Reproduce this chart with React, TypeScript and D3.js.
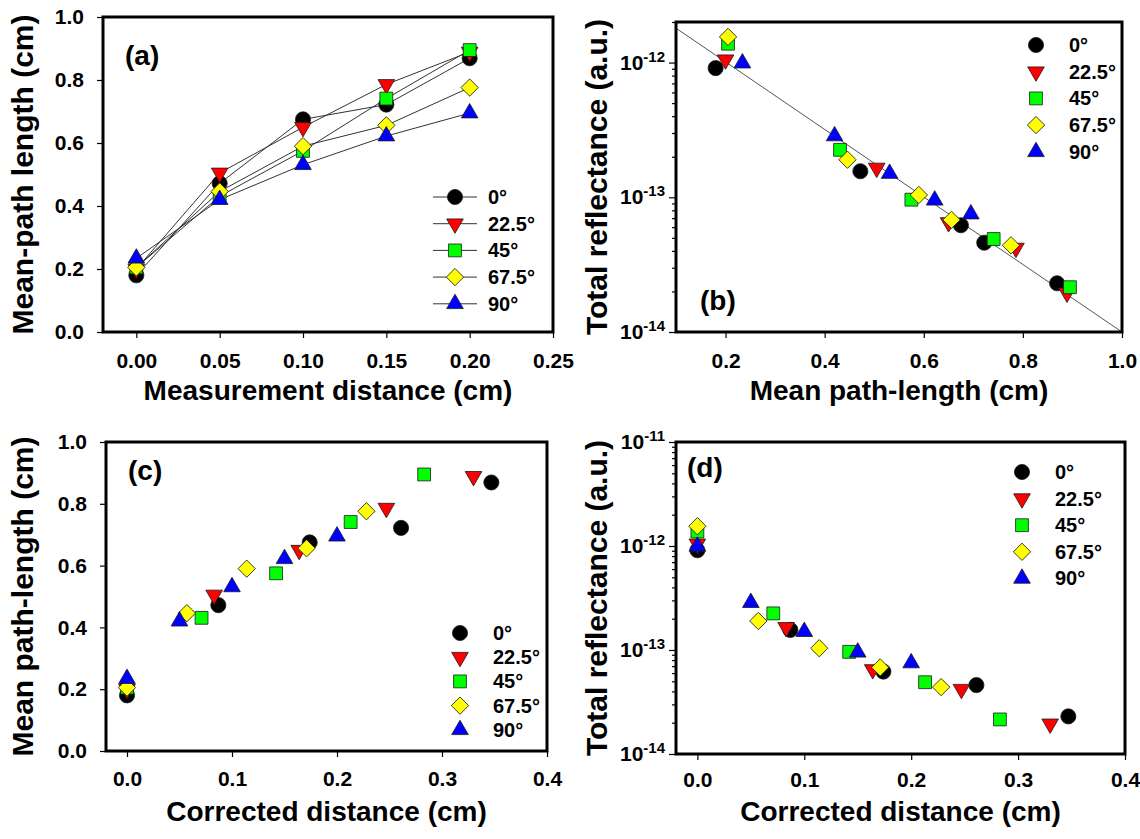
import React, { useEffect, useRef } from 'react';
import * as d3 from 'd3';

const FONT = 'Liberation Sans, Arial, Helvetica, sans-serif';

// series (rotation angle)
const angleLabels = ['0°', '22.5°', '45°', '67.5°', '90°'];
const markerFill = ['#000000', '#ff0000', '#00ff00', '#ffff00', '#0000ff'];
const markerShape = ['circle', 'triangleDown', 'square', 'diamond', 'triangleUp'];

// measurement distance (cm), same for every series
const measurementDistance = [0, 0.05, 0.1, 0.15, 0.2];

// mean path-length (cm) per series
const pathLength = [
  [0.18, 0.472, 0.675, 0.722, 0.869],
  [0.2, 0.505, 0.65, 0.786, 0.889],
  [0.205, 0.431, 0.575, 0.741, 0.895],
  [0.205, 0.446, 0.59, 0.656, 0.776],
  [0.234, 0.42, 0.531, 0.622, 0.695],
];

// total reflectance (a.u.) per series
const reflectance = [
  [9.1e-13, 1.56e-13, 6.2e-14, 4.6e-14, 2.3e-14],
  [1.05e-12, 1.65e-13, 6.5e-14, 4.2e-14, 1.95e-14],
  [1.38e-12, 2.25e-13, 9.6e-14, 4.9e-14, 2.15e-14],
  [1.55e-12, 1.9e-13, 1.04e-13, 6.8e-14, 4.4e-14],
  [9.9e-13, 2.85e-13, 1.5e-13, 9.5e-14, 7.5e-14],
];

// corrected distance (cm) per series
const correctedDistance = [
  [0, 0.087, 0.174, 0.261, 0.347],
  [0, 0.083, 0.164, 0.247, 0.33],
  [0, 0.071, 0.142, 0.213, 0.283],
  [0, 0.057, 0.114, 0.171, 0.228],
  [0, 0.05, 0.1, 0.15, 0.2],
];

// regression line of panel (b)
const fitPathLength = [0.1, 1.0];
const fitReflectance = [1.8e-12, 1e-14];

const ticksA = [0, 0.05, 0.1, 0.15, 0.2, 0.25];
const ticksB = [0.2, 0.4, 0.6, 0.8, 1.0];
const ticksCD = [0, 0.1, 0.2, 0.3, 0.4];
const ticksPath = [0, 0.2, 0.4, 0.6, 0.8, 1.0];

const panels = [
  {
    tag: '(a)', tagX: 125, tagY: 65,
    left: 103, right: 553, top: 17, bottom: 332,
    xDomain: [-0.02, 0.25], xTicks: ticksA, xFmt: '.2f', xPad: 15,
    yLog: false, yDomain: [0, 1], yTicks: ticksPath,
    xs: measurementDistance.map(() => measurementDistance), ys: pathLength,
    xTitle: 'Measurement distance (cm)', xTitleY: 400,
    yTitle: 'Mean-path length (cm)', yTitleX: 33,
    legMark: 455, legText: 488, legY: 197, legDy: 26.7, legLine: true, lines: true,
  },
  {
    tag: '(b)', tagX: 700, tagY: 310,
    left: 676, right: 1122, top: 22, bottom: 332,
    xDomain: [0.1, 1.0], xTicks: ticksB, xFmt: '.1f', xPad: 15,
    yLog: true, yDomain: [1e-14, 2e-12], yTicks: [1e-14, 1e-13, 1e-12],
    xs: pathLength, ys: reflectance,
    xTitle: 'Mean path-length (cm)', xTitleY: 400,
    yTitle: 'Total reflectance (a.u.)', yTitleX: 607,
    legMark: 1036, legText: 1069, legY: 45, legDy: 26.7, legLine: false, lines: false,
    fit: true,
  },
  {
    tag: '(c)', tagX: 128, tagY: 480,
    left: 106, right: 547, top: 442, bottom: 751,
    xDomain: [-0.02, 0.4], xTicks: ticksCD, xFmt: '.1f', xPad: 14,
    yLog: false, yDomain: [0, 1], yTicks: ticksPath,
    xs: correctedDistance, ys: pathLength,
    xTitle: 'Corrected distance (cm)', xTitleY: 821,
    yTitle: 'Mean path-length (cm)', yTitleX: 33,
    legMark: 460, legText: 493, legY: 633, legDy: 24.2, legLine: false, lines: false,
  },
  {
    tag: '(d)', tagX: 687, tagY: 477,
    left: 676, right: 1125, top: 442, bottom: 754,
    xDomain: [-0.02, 0.4], xTicks: ticksCD, xFmt: '.1f', xPad: 12,
    yLog: true, yDomain: [1e-14, 1e-11], yTicks: [1e-14, 1e-13, 1e-12, 1e-11],
    xs: correctedDistance, ys: reflectance,
    xTitle: 'Corrected distance (cm)', xTitleY: 821,
    yTitle: 'Total reflectance (a.u.)', yTitleX: 607,
    legMark: 1022, legText: 1055, legY: 472, legDy: 26.6, legLine: false, lines: false,
  },
];

function symbolFor(i: number) {
  const s = markerShape[i];
  if (s === 'circle') return { path: d3.symbol(d3.symbolCircle, 180)(), rot: 0 };
  if (s === 'square') return { path: d3.symbol(d3.symbolSquare, 165)(), rot: 0 };
  if (s === 'diamond') return { path: d3.symbol(d3.symbolSquare, 150)(), rot: 45 };
  if (s === 'triangleDown') return { path: d3.symbol(d3.symbolTriangle, 120)(), rot: 180 };
  return { path: d3.symbol(d3.symbolTriangle, 120)(), rot: 0 };
}

function drawMarker(g: any, i: number, cx: number, cy: number) {
  const sym = symbolFor(i);
  g.append('path')
    .attr('d', sym.path)
    .attr('transform', `translate(${cx},${cy}) rotate(${sym.rot})`)
    .attr('fill', markerFill[i])
    .attr('stroke', '#1a1a1a')
    .attr('stroke-width', 0.8);
}

function styleAxis(ax: any) {
  ax.attr('font-family', FONT).attr('font-size', 21).attr('font-weight', 'bold');
  ax.select('.domain').remove();
  ax.selectAll('line').attr('stroke', '#000').attr('stroke-width', 1.2);
  ax.selectAll('text').attr('fill', '#000');
}

function drawPanel(svg: any, p: any) {
  const x = d3.scaleLinear().domain(p.xDomain).range([p.left, p.right]);
  const y: any = p.yLog
    ? d3.scaleLog().domain(p.yDomain).range([p.bottom, p.top])
    : d3.scaleLinear().domain(p.yDomain).range([p.bottom, p.top]);
  const g = svg.append('g');

  // x axis
  const xa = g.append('g')
    .attr('transform', `translate(0,${p.bottom})`)
    .call(d3.axisBottom(x).tickValues(p.xTicks).tickFormat(d3.format(p.xFmt))
      .tickSize(6).tickSizeOuter(0).tickPadding(p.xPad));
  styleAxis(xa);

  // y axis
  if (!p.yLog) {
    const ya = g.append('g')
      .attr('transform', `translate(${p.left},0)`)
      .call(d3.axisLeft(y).tickValues(p.yTicks).tickFormat(d3.format('.1f'))
        .tickSize(6).tickSizeOuter(0).tickPadding(13));
    styleAxis(ya);
  } else {
    const ya = g.append('g')
      .attr('transform', `translate(${p.left},0)`)
      .call(d3.axisLeft(y).tickValues(p.yTicks).tickFormat(() => '')
        .tickSize(7).tickSizeOuter(0));
    styleAxis(ya);
    const minors: number[] = [];
    p.yTicks.forEach((d: number) => {
      for (let k = 2; k <= 9; k++) {
        const v = d * k;
        if (v < p.yDomain[1] * 1.0001) minors.push(v);
      }
    });
    const ym = g.append('g')
      .attr('transform', `translate(${p.left},0)`)
      .call(d3.axisLeft(y).tickValues(minors).tickFormat(() => '')
        .tickSize(4).tickSizeOuter(0));
    styleAxis(ym);
    p.yTicks.forEach((d: number) => {
      const t = g.append('text')
        .attr('x', p.left - 11)
        .attr('y', y(d) + 7)
        .attr('text-anchor', 'end')
        .attr('font-family', FONT)
        .attr('font-weight', 'bold')
        .attr('font-size', 21)
        .attr('fill', '#000');
      t.append('tspan').text('10');
      t.append('tspan')
        .attr('font-size', 15)
        .attr('dy', -8)
        .text(String(Math.round(Math.log10(d))));
    });
  }

  // fit line
  if (p.fit) {
    const line = d3.line<number>()
      .x((_, i) => x(fitPathLength[i]))
      .y((_, i) => y(fitReflectance[i]));
    g.append('path')
      .attr('d', line(fitPathLength))
      .attr('fill', 'none')
      .attr('stroke', '#555')
      .attr('stroke-width', 1);
  }

  // connecting lines
  if (p.lines) {
    angleLabels.forEach((_, s) => {
      const line = d3.line<number>()
        .x((_, i) => x(p.xs[s][i]))
        .y((_, i) => y(p.ys[s][i]));
      g.append('path')
        .attr('d', line(p.xs[s]))
        .attr('fill', 'none')
        .attr('stroke', '#333')
        .attr('stroke-width', 1);
    });
  }

  // markers
  angleLabels.forEach((_, s) => {
    p.xs[s].forEach((xv: number, i: number) => {
      drawMarker(g, s, x(xv), y(p.ys[s][i]));
    });
  });

  // frame
  g.append('rect')
    .attr('x', p.left).attr('y', p.top)
    .attr('width', p.right - p.left).attr('height', p.bottom - p.top)
    .attr('fill', 'none').attr('stroke', '#000').attr('stroke-width', 3);

  // legend
  angleLabels.forEach((lab, s) => {
    const ly = p.legY + s * p.legDy;
    if (p.legLine) {
      g.append('line')
        .attr('x1', p.legMark - 22).attr('x2', p.legMark + 22)
        .attr('y1', ly).attr('y2', ly)
        .attr('stroke', '#333').attr('stroke-width', 1);
    }
    drawMarker(g, s, p.legMark, ly);
    g.append('text')
      .attr('x', p.legText).attr('y', ly + 7)
      .attr('font-family', FONT).attr('font-weight', 'bold').attr('font-size', 20)
      .attr('fill', '#000')
      .text(lab);
  });

  // panel tag
  g.append('text')
    .attr('x', p.tagX).attr('y', p.tagY)
    .attr('font-family', FONT).attr('font-weight', 'bold').attr('font-size', 28)
    .text(p.tag);

  // axis titles
  g.append('text')
    .attr('x', (p.left + p.right) / 2).attr('y', p.xTitleY)
    .attr('text-anchor', 'middle')
    .attr('font-family', FONT).attr('font-weight', 'bold').attr('font-size', 28)
    .text(p.xTitle);
  g.append('text')
    .attr('transform', `translate(${p.yTitleX},${(p.top + p.bottom) / 2}) rotate(-90)`)
    .attr('text-anchor', 'middle')
    .attr('font-family', FONT).attr('font-weight', 'bold').attr('font-size', 30)
    .text(p.yTitle);
}

export default function App() {
  const ref = useRef<SVGSVGElement>(null);

  useEffect(() => {
    const svg = d3.select(ref.current);
    svg.selectAll('*').remove();
    panels.forEach((p) => drawPanel(svg, p));
  }, []);

  return (
    <svg
      ref={ref}
      width={1140}
      height={839}
      style={{ position: 'absolute', left: 0, top: 0, background: '#fff' }}
    />
  );
}
